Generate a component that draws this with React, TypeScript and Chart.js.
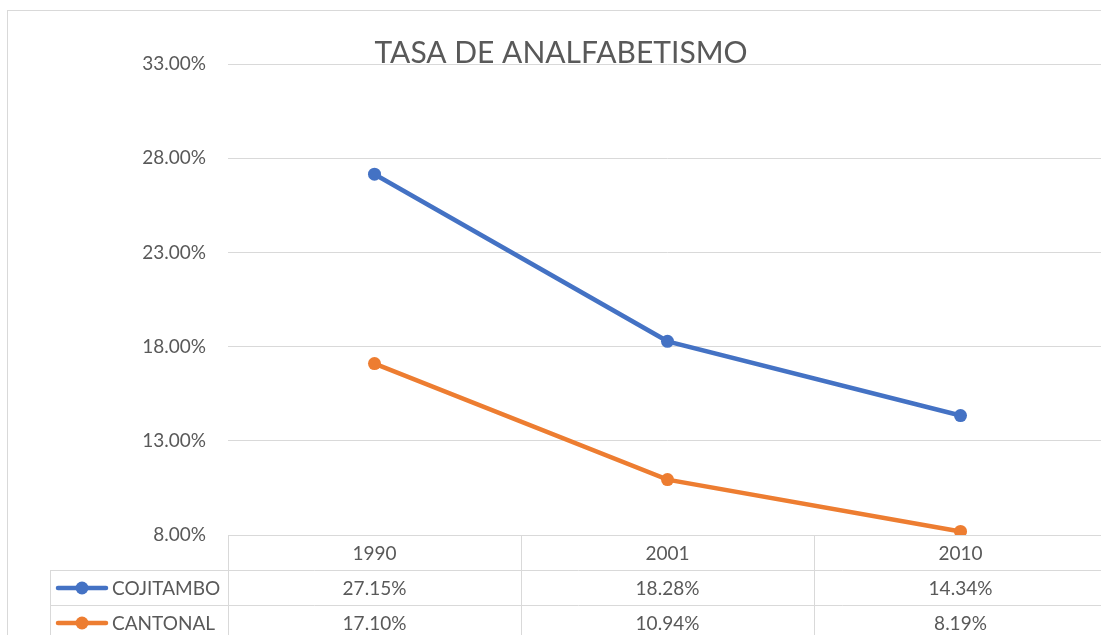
import React, { useEffect, useRef } from "react";
import { Chart, registerables } from "chart.js";

Chart.register(...registerables);

const title = "TASA DE ANALFABETISMO";
const categories = ["1990", "2001", "2010"];
const seriesNames = ["COJITAMBO", "CANTONAL"];
const cojitambo = [27.15, 18.28, 14.34];
const cantonal = [17.1, 10.94, 8.19];
const yMin = 8;
const yMax = 33;
const yStep = 5;
const colors = ["#4472C4", "#ED7D31"];

const FONT = "Lato, 'Open Sans', sans-serif";
const TEXT = "#595959";
const GRID = "#d9d9d9";
const fmt = (v: number) => v.toFixed(2) + "%";

const chromePlugin = {
  id: "chrome",
  beforeDraw(chart: any) {
    const ctx = chart.ctx;
    ctx.save();
    ctx.fillStyle = "#ffffff";
    ctx.fillRect(0, 0, chart.width, chart.height);
    ctx.strokeStyle = GRID;
    ctx.lineWidth = 1;
    ctx.strokeRect(7.5, 10.5, chart.width + 50, chart.height + 50);
    ctx.fillStyle = TEXT;
    ctx.font = `30px ${FONT}`;
    ctx.textAlign = "center";
    ctx.textBaseline = "alphabetic";
    ctx.fillText(title, 561, 63);
    ctx.restore();
  },
  afterDraw(chart: any) {
    const ctx = chart.ctx;
    const { left, right, bottom } = chart.chartArea;
    const xs = chart.scales.x;
    const n = categories.length;
    const colW = (right - left) / n;
    const rowH = 35;
    const legendLeft = 50;
    const series = [cojitambo, cantonal];
    ctx.save();
    ctx.strokeStyle = GRID;
    ctx.lineWidth = 1;
    const line = (x1: number, y1: number, x2: number, y2: number) => {
      ctx.beginPath();
      ctx.moveTo(x1, y1);
      ctx.lineTo(x2, y2);
      ctx.stroke();
    };
    const b = Math.round(bottom) + 0.5;
    line(left, b, right, b);
    for (let r = 1; r <= 3; r++) {
      const y = b + r * rowH;
      line(legendLeft, y, right, y);
    }
    for (let i = 0; i <= n; i++) {
      const x = Math.round(left + i * colW) + 0.5;
      line(x, b, x, b + 3 * rowH);
    }
    line(legendLeft + 0.5, b + rowH, legendLeft + 0.5, b + 3 * rowH);

    ctx.fillStyle = TEXT;
    ctx.font = `19px ${FONT}`;
    ctx.textBaseline = "middle";
    ctx.textAlign = "center";
    categories.forEach((c, i) => {
      ctx.fillText(c, xs.getPixelForValue(i), b + rowH / 2 + 1);
    });
    series.forEach((vals, s) => {
      const yc = b + rowH * (s + 1) + rowH / 2 + 1;
      ctx.textAlign = "center";
      ctx.fillStyle = TEXT;
      vals.forEach((v, i) => {
        ctx.fillText(fmt(v), xs.getPixelForValue(i), yc);
      });
      // legend key
      ctx.strokeStyle = colors[s];
      ctx.lineWidth = 4.5;
      ctx.lineCap = "round";
      line(58, yc - 1, 106, yc - 1);
      ctx.fillStyle = colors[s];
      ctx.beginPath();
      ctx.arc(82, yc - 1, 6.5, 0, Math.PI * 2);
      ctx.fill();
      ctx.fillStyle = TEXT;
      ctx.textAlign = "left";
      ctx.fillText(seriesNames[s], 112, yc);
      ctx.strokeStyle = GRID;
      ctx.lineWidth = 1;
      ctx.lineCap = "butt";
    });
    ctx.restore();
  },
};

export default function App() {
  const ref = useRef<HTMLCanvasElement | null>(null);
  useEffect(() => {
    if (!ref.current) return;
    const chart = new Chart(ref.current, {
      type: "line",
      data: {
        labels: categories,
        datasets: [cojitambo, cantonal].map((d, i) => ({
          label: seriesNames[i],
          data: d,
          borderColor: colors[i],
          backgroundColor: colors[i],
          borderWidth: 4.5,
          pointRadius: 6.5,
          pointBorderWidth: 0,
          pointHoverRadius: 6.5,
          tension: 0,
        })),
      },
      options: {
        responsive: false,
        animation: false,
        layout: { padding: { left: 0, top: 64, right: 13, bottom: 115 } },
        plugins: {
          legend: { display: false },
          title: { display: false },
          tooltip: { enabled: false },
        },
        scales: {
          x: { type: "category", display: false, offset: true },
          y: {
            min: yMin,
            max: yMax,
            border: { display: false },
            grid: { color: GRID, drawTicks: false, lineWidth: 1 },
            ticks: {
              stepSize: yStep,
              padding: 22,
              color: TEXT,
              font: { family: FONT, size: 19 },
              callback: (v: any) => fmt(Number(v)),
            },
            afterFit: (s: any) => {
              s.width = 228;
            },
          },
        },
      },
      plugins: [chromePlugin],
    });
    return () => chart.destroy();
  }, []);
  return (
    <div
      style={{
        position: "fixed",
        left: 0,
        top: 0,
        width: 1101,
        height: 635,
        overflow: "hidden",
        background: "#fff",
      }}
    >
      <canvas ref={ref} width={1120} height={650} style={{ display: "block" }} />
    </div>
  );
}
